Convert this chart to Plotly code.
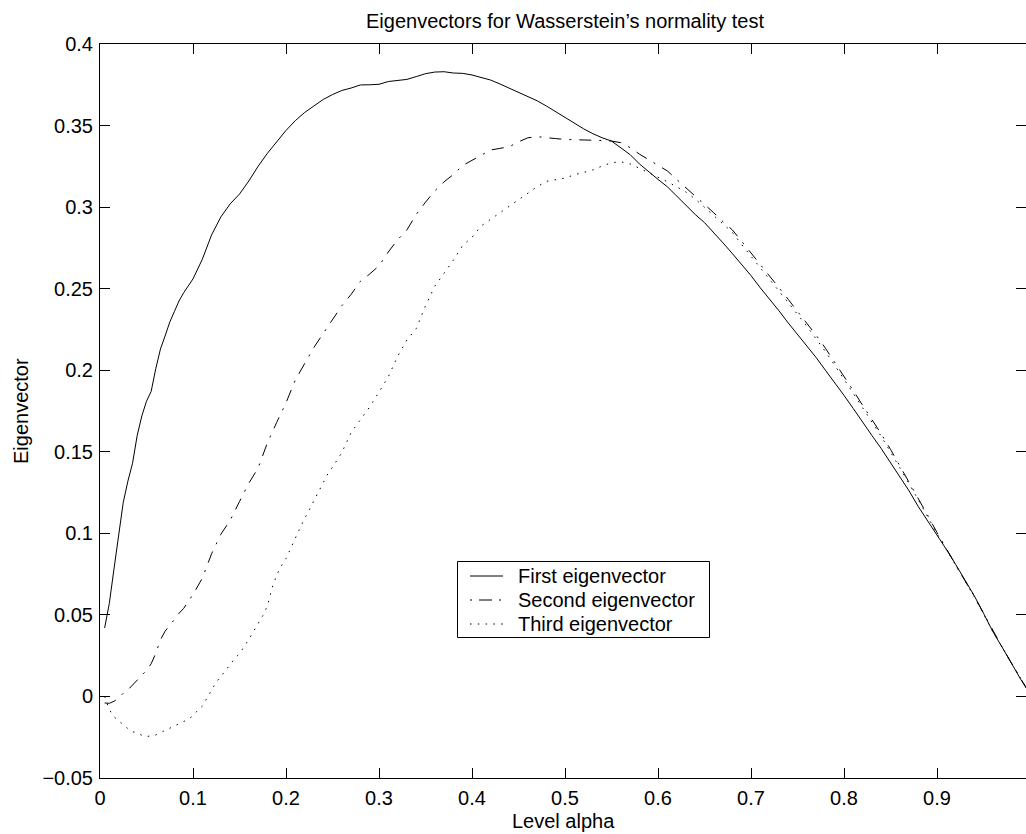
import plotly.graph_objects as go

# ---------------- data ----------------
alpha_first = [0.005, 0.01, 0.015, 0.02, 0.025, 0.03, 0.035, 0.04, 0.045, 0.05,
               0.055, 0.06, 0.065, 0.07, 0.075, 0.08, 0.085, 0.09,
               0.10, 0.11, 0.12, 0.13, 0.14, 0.15, 0.16, 0.17, 0.18, 0.19,
               0.20, 0.21, 0.22, 0.23, 0.24, 0.25, 0.26, 0.27, 0.28, 0.29,
               0.30, 0.31, 0.32, 0.33, 0.34, 0.35, 0.36, 0.37, 0.38, 0.39,
               0.40, 0.41, 0.42, 0.43, 0.44, 0.45, 0.46, 0.47, 0.48, 0.49,
               0.50, 0.51, 0.52, 0.53, 0.54, 0.55, 0.56, 0.57, 0.58, 0.59,
               0.60, 0.61, 0.62, 0.63, 0.64, 0.65, 0.66, 0.67, 0.68, 0.69,
               0.70, 0.71, 0.72, 0.73, 0.74, 0.75, 0.76, 0.77, 0.78, 0.79,
               0.80, 0.81, 0.82, 0.83, 0.84, 0.85, 0.86, 0.87, 0.88, 0.89,
               0.90, 0.91, 0.92, 0.93, 0.94, 0.95, 0.96, 0.97, 0.98, 0.99, 1.00]
first_vec = [0.042, 0.057, 0.078, 0.099, 0.119, 0.132, 0.143, 0.160, 0.172, 0.181,
             0.187, 0.201, 0.213, 0.221, 0.2295, 0.236, 0.2425, 0.2475,
             0.256, 0.268, 0.283, 0.294, 0.302, 0.308, 0.316, 0.325, 0.333, 0.340,
             0.347, 0.353, 0.358, 0.362, 0.366, 0.369, 0.3715, 0.373, 0.3749, 0.375,
             0.3753, 0.377, 0.3778, 0.3783, 0.380, 0.3818, 0.3828, 0.383, 0.3822, 0.382,
             0.381, 0.3795, 0.3779, 0.3755, 0.373, 0.3705, 0.368, 0.3652, 0.362, 0.3585,
             0.355, 0.351, 0.348, 0.345, 0.3425, 0.3405, 0.3365, 0.3322, 0.3265, 0.3215,
             0.317, 0.3125, 0.3068, 0.301, 0.2955, 0.2905, 0.2845, 0.278, 0.2715, 0.2648,
             0.258, 0.2505, 0.2437, 0.2365, 0.229, 0.222, 0.2153, 0.2078, 0.200, 0.1925,
             0.1846, 0.1765, 0.168, 0.160, 0.152, 0.1435, 0.135, 0.126, 0.1163, 0.1078,
             0.0992, 0.0902, 0.081, 0.0715, 0.0618, 0.051, 0.0398, 0.0302, 0.0203, 0.0105, 0.0015]

alpha_second = [0.005, 0.01, 0.015, 0.02, 0.025, 0.03, 0.035, 0.04, 0.045, 0.05,
                0.055, 0.06, 0.065, 0.07, 0.075, 0.08, 0.085, 0.09, 0.095,
                0.10, 0.11, 0.12, 0.13, 0.14, 0.15, 0.16, 0.17, 0.18, 0.19,
                0.20, 0.21, 0.22, 0.23, 0.24, 0.25, 0.26, 0.27, 0.28, 0.29,
                0.30, 0.31, 0.32, 0.33, 0.34, 0.35, 0.36, 0.37, 0.38, 0.39,
                0.40, 0.41, 0.42, 0.43, 0.44, 0.45, 0.46, 0.47, 0.48, 0.49,
                0.50, 0.51, 0.52, 0.53, 0.54, 0.55, 0.56, 0.57, 0.58, 0.59,
                0.60, 0.61, 0.62, 0.63, 0.64, 0.65, 0.66, 0.67, 0.68, 0.69,
                0.70, 0.71, 0.72, 0.73, 0.74, 0.75, 0.76, 0.77, 0.78, 0.79,
                0.80, 0.81, 0.82, 0.83, 0.84, 0.85, 0.86, 0.87, 0.88, 0.89,
                0.90, 0.91, 0.92, 0.93, 0.94, 0.95, 0.96, 0.97, 0.98, 0.99, 1.00]
second_vec = [-0.004, -0.0042, -0.003, -0.001, 0.002, 0.004, 0.007, 0.010, 0.013, 0.016,
              0.020, 0.0265, 0.0347, 0.040, 0.0435, 0.0475, 0.051, 0.054, 0.058,
              0.0625, 0.0725, 0.0875, 0.0995, 0.108, 0.1195, 0.1307, 0.140, 0.1555, 0.168,
              0.180, 0.194, 0.204, 0.214, 0.2225, 0.231, 0.2395, 0.2465, 0.2545, 0.259,
              0.264, 0.2725, 0.280, 0.286, 0.2955, 0.303, 0.310, 0.3155, 0.320, 0.3255,
              0.3285, 0.332, 0.335, 0.336, 0.337, 0.340, 0.3425, 0.3432, 0.3428, 0.342,
              0.3415, 0.3412, 0.3411, 0.341, 0.3408, 0.3405, 0.3395, 0.3365, 0.3325, 0.329,
              0.3255, 0.3222, 0.317, 0.312, 0.307, 0.3016, 0.2965, 0.291, 0.286, 0.279,
              0.272, 0.265, 0.2575, 0.2505, 0.2435, 0.236, 0.229, 0.2215, 0.2135, 0.205,
              0.1962, 0.1875, 0.1785, 0.170, 0.161, 0.1515, 0.1415, 0.1315, 0.1215, 0.111,
              0.1005, 0.0905, 0.0805, 0.071, 0.0615, 0.051, 0.040, 0.0303, 0.0205, 0.0107, 0.0015]

alpha_third = [0.005, 0.01, 0.015, 0.02, 0.025, 0.03, 0.035, 0.04, 0.045, 0.05,
               0.055, 0.06, 0.065, 0.07, 0.075, 0.08, 0.085, 0.09, 0.095, 0.10,
               0.105, 0.11, 0.115, 0.12, 0.125, 0.13, 0.135, 0.14, 0.145, 0.15,
               0.155, 0.16, 0.165, 0.17, 0.175, 0.18, 0.185, 0.19, 0.195, 0.20,
               0.205, 0.21, 0.215, 0.22, 0.225, 0.23, 0.235, 0.24, 0.245, 0.25,
               0.26, 0.27, 0.28, 0.29, 0.30, 0.31, 0.32, 0.33, 0.34, 0.35,
               0.36, 0.37, 0.38, 0.39, 0.40, 0.41, 0.42, 0.43, 0.44, 0.45,
               0.46, 0.47, 0.48, 0.49, 0.50, 0.51, 0.52, 0.53, 0.54, 0.55,
               0.56, 0.57, 0.58, 0.59, 0.60, 0.61, 0.62, 0.63, 0.64, 0.65,
               0.66, 0.67, 0.68, 0.69, 0.70, 0.72, 0.74, 0.76, 0.78, 0.80,
               0.82, 0.84, 0.86, 0.88, 0.90, 0.92, 0.94, 0.96, 0.98, 1.00]
third_vec = [0.0, -0.008, -0.0125, -0.015, -0.0173, -0.0197, -0.0215, -0.0228, -0.0238, -0.0246,
             -0.0243, -0.0236, -0.0222, -0.0208, -0.0193, -0.018, -0.0168, -0.0155, -0.014, -0.0118,
             -0.0085, -0.006, -0.0012, 0.0035, 0.0088, 0.0122, 0.016, 0.0196, 0.0234, 0.0262,
             0.0303, 0.035, 0.0398, 0.0448, 0.0495, 0.0555, 0.0665, 0.0745, 0.080, 0.0845,
             0.091, 0.0965, 0.1032, 0.109, 0.1145, 0.1195, 0.125, 0.1305, 0.1365, 0.1405,
             0.1495, 0.1618, 0.1695, 0.1775, 0.1866, 0.196, 0.2085, 0.2185, 0.2255, 0.2395,
             0.2515, 0.2595, 0.2675, 0.2765, 0.2815, 0.2885, 0.2925, 0.297, 0.3005, 0.3048,
             0.3088, 0.3125, 0.3158, 0.3168, 0.3178, 0.3198, 0.3212, 0.3228, 0.3252, 0.3272,
             0.3278, 0.3265, 0.3238, 0.3212, 0.3185, 0.3156, 0.3125, 0.3093, 0.305, 0.300,
             0.2948, 0.2895, 0.2845, 0.277, 0.270, 0.2555, 0.2415, 0.227, 0.2115, 0.1945,
             0.177, 0.1595, 0.1402, 0.1205, 0.0998, 0.0802, 0.0612, 0.0398, 0.0204, 0.0015]

x_tick_vals = [0, 0.1, 0.2, 0.3, 0.4, 0.5, 0.6, 0.7, 0.8, 0.9, 1.0]
x_tick_text = ["0", "0.1", "0.2", "0.3", "0.4", "0.5", "0.6", "0.7", "0.8", "0.9", "1"]
y_tick_vals = [-0.05, 0, 0.05, 0.1, 0.15, 0.2, 0.25, 0.3, 0.35, 0.4]
y_tick_text = ["\u22120.05", "0", "0.05", "0.1", "0.15", "0.2", "0.25", "0.3", "0.35", "0.4"]

series_names = ["First eigenvector", "Second eigenvector", "Third eigenvector"]

# ---------------- styling ----------------
FONT = "Liberation Sans, Arial, Helvetica, sans-serif"
FS = 20
W, H = 1026, 834
ML, MT, MB = 100, 44, 56
PW = 926                      # plot-area width in px (right edge at the window edge)
PH = H - MT - MB              # plot-area height in px
dashes = ["solid", "12px,8px,2px,8px", "1.5px,6.3px"]
legend_dashes = ["solid", "2px,7px,13px,7px", "1.5px,6.3px"]


def px_x(p):
    return (p - ML) / PW


def px_y(p):
    return (H - MB - p) / PH


fig = go.Figure()
for xs, ys, name, dash in zip([alpha_first, alpha_second, alpha_third],
                              [first_vec, second_vec, third_vec],
                              series_names, dashes):
    fig.add_trace(go.Scatter(x=xs, y=ys, mode="lines", name=name, showlegend=False,
                             line=dict(color="black", width=1, dash=dash)))
# helper (empty) trace so that the right-hand tick axis is drawn
fig.add_trace(go.Scatter(x=[None], y=[None], yaxis="y2", showlegend=False, hoverinfo="skip"))

# legend box drawn like the reference (box, line samples, labels)
shapes = [dict(type="rect", xref="paper", yref="paper",
               x0=px_x(457.5), x1=px_x(709.5), y0=px_y(637.5), y1=px_y(561.5),
               line=dict(color="black", width=1), fillcolor="white", layer="above")]
annotations = []
row_y = [576, 600, 624]
for name, dash, ry in zip(series_names, legend_dashes, row_y):
    shapes.append(dict(type="line", xref="paper", yref="paper",
                       x0=px_x(470), x1=px_x(503), y0=px_y(ry), y1=px_y(ry),
                       line=dict(color="black", width=1, dash=dash), layer="above"))
    annotations.append(dict(text=name, xref="paper", yref="paper",
                            x=px_x(516), y=px_y(ry), xanchor="left", yanchor="middle",
                            showarrow=False,
                            font=dict(family=FONT, size=FS, color="black")))

annotations += [
    dict(text="Level alpha", xref="paper", yref="paper", x=0.5, y=px_y(808),
         xanchor="center", yanchor="top", showarrow=False,
         font=dict(family=FONT, size=FS, color="black")),
    dict(text="Eigenvector", xref="paper", yref="paper", x=px_x(21), y=0.5,
         xanchor="center", yanchor="middle", textangle=-90, showarrow=False,
         font=dict(family=FONT, size=FS, color="black")),
]

fig.update_layout(
    width=W, height=H,
    margin=dict(l=ML, r=W - ML - PW, t=MT, b=MB, autoexpand=False),
    paper_bgcolor="white", plot_bgcolor="white",
    font=dict(family=FONT, size=FS, color="black"),
    title=dict(text="Eigenvectors for Wasserstein\u2019s normality test",
               x=565 / W, xanchor="center", y=1 - 21 / H, yanchor="middle",
               font=dict(family=FONT, size=FS, color="black")),
    xaxis=dict(range=[0, 0.9957], tickvals=x_tick_vals, ticktext=x_tick_text,
               ticks="inside", ticklen=10, tickcolor="black", tickwidth=1,
               showline=True, linecolor="black", linewidth=1, mirror="ticks",
               showgrid=False, zeroline=False, ticklabelstandoff=2),
    yaxis=dict(range=[-0.05, 0.4], tickvals=y_tick_vals, ticktext=y_tick_text,
               ticks="inside", ticklen=10, tickcolor="black", tickwidth=1,
               showline=True, linecolor="black", linewidth=1, mirror=False,
               showgrid=False, zeroline=False, ticklabelstandoff=2),
    yaxis2=dict(range=[-0.05, 0.4], tickvals=y_tick_vals, overlaying="y", side="right",
                ticks="inside", ticklen=10, tickcolor="black", tickwidth=1,
                showticklabels=False, showline=False, showgrid=False, zeroline=False),
    showlegend=False,
    hovermode=False,
    shapes=shapes,
    annotations=annotations,
)

fig.write_html("out.html",
               config={"displayModeBar": False, "staticPlot": True},
               post_script="document.body.style.margin='0px';"
                           "document.body.style.overflow='hidden';")
